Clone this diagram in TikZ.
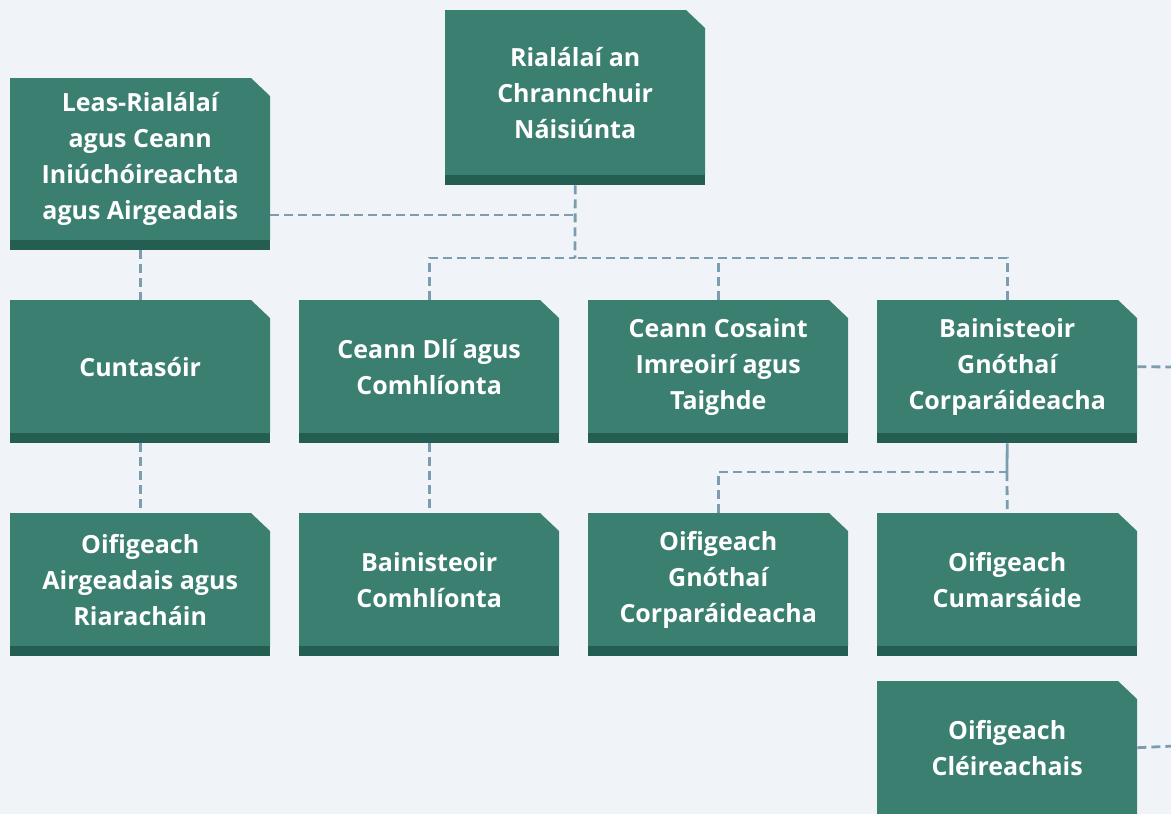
\documentclass[tikz,border=0pt]{standalone}
\usepackage{fontspec}
\setmainfont{Open Sans}
\definecolor{bgc}{HTML}{F0F4F8}
\definecolor{boxc}{HTML}{3B7F71}
\definecolor{stripc}{HTML}{245E52}
\definecolor{linec}{HTML}{7C9DB0}
\tikzset{
  boxtext/.style={rectangle, inner sep=0pt, minimum width=260pt, anchor=north west, text=white, align=center, font=\fontsize{25}{36}\selectfont\bfseries},
  conn/.style={linec, line width=2.8pt, dash pattern=on 9pt off 5pt},
  connsolid/.style={linec, line width=2.8pt}
}
\newcommand\obox[5]{% name, x, y, main height, text
  \fill[boxc] (#2,#3) -- ++(241,0) -- ++(19,18) -- ++(0,{#4-18}) -- ++(-260,0) -- cycle;
  \node[boxtext, minimum height=#4pt] (#1) at (#2,#3) {#5};
  \fill[stripc] (#1.south west) rectangle ([yshift=-10pt]#1.south east);
  \coordinate (#1-b) at ([yshift=-10pt]#1.south);
}
\begin{document}
\begin{tikzpicture}[x=1pt,y=-1pt]
\useasboundingbox (0,0) rectangle (1171,814);
\fill[bgc] (0,0) rectangle (1171,814);
\coordinate (h1) at (575,258);
\coordinate (j1) at (575,215);
\coordinate (j2) at (1007,472);
\coordinate (r1) at (1175,367);
\coordinate (r2) at (1175,746);
\obox{top}{445}{10}{165}{Rialálaí an\\Chrannchuir\\Náisiúnta}
\obox{leas}{10}{78}{162}{\raisebox{-3pt}{\parbox{260pt}{\centering Leas-Rialálaí\\agus Ceann\\Iniúchóireachta\\agus Airgeadais}}}
\obox{c1}{10}{300}{133}{Cuntasóir}
\obox{c2}{299}{300}{133}{Ceann Dlí agus\\Comhlíonta}
\obox{c3}{588}{300}{133}{Ceann Cosaint\\Imreoirí agus\\Taighde}
\obox{c4}{877}{300}{133}{Bainisteoir\\Gnóthaí\\Corparáideacha}
\obox{d1}{10}{513}{133}{Oifigeach\\Airgeadais agus\\Riaracháin}
\obox{d2}{299}{513}{133}{Bainisteoir\\Comhlíonta}
\obox{d3}{588}{513}{133}{Oifigeach\\Gnóthaí\\Corparáideacha}
\obox{d4}{877}{513}{133}{Oifigeach\\Cumarsáide}
\obox{e4}{877}{681}{133}{Oifigeach\\Cléireachais}
\draw[conn] (top-b) -- (h1);
\draw[conn] (leas.east |- j1) -- (j1);
\draw[conn] (c2.north) |- (h1);
\draw[conn] (c4.north) |- (h1);
\draw[conn] (c3.north) -- (c3.north |- h1);
\draw[conn] (leas-b) -- (c1.north);
\draw[conn] (c1-b) -- (d1.north);
\draw[conn] (c2-b) -- (d2.north);
\draw[connsolid] (c4-b) -- (j2);
\draw[conn] (j2) -- (d4.north);
\draw[conn] (d3.north) |- (j2);
\draw[conn] (c4.east) -- (r1);
\draw[conn] (e4.east) -- (r2);
\end{tikzpicture}
\end{document}
